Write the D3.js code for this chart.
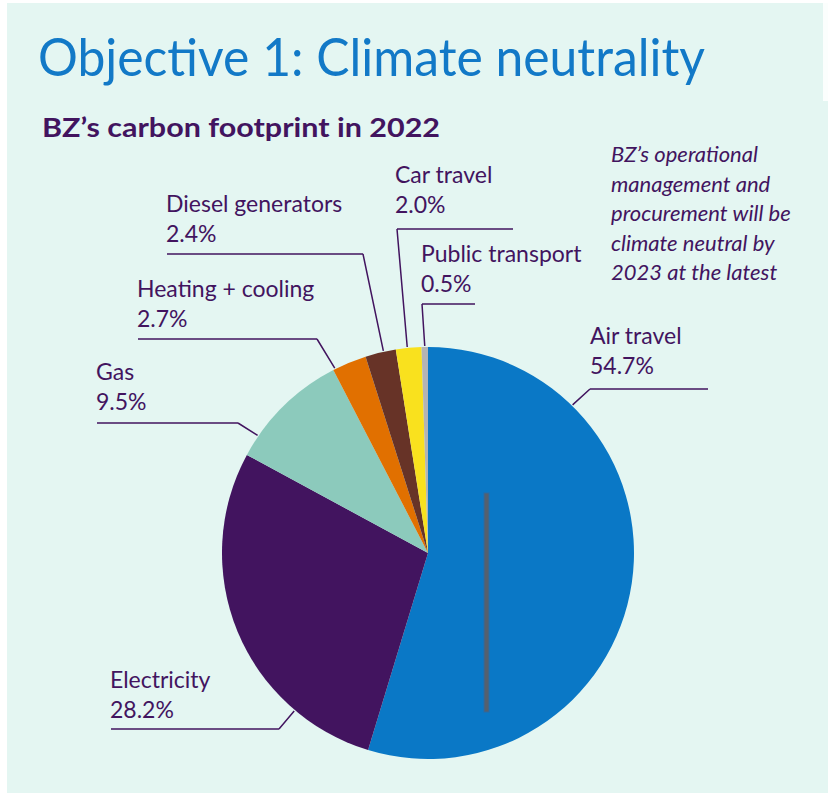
<!DOCTYPE html>
<html>
<head>
<meta charset="utf-8">
<script src="https://cdn.jsdelivr.net/npm/d3@7"></script>
<style>
  html, body { margin: 0; padding: 0; background: #ffffff; }
  svg { display: block; }
  text { font-family: Lato, "Noto Sans", sans-serif; }
</style>
</head>
<body>
<svg id="chart" width="828" height="794"></svg>
<script>
// ---- Data ----
const categories = ["Air travel", "Electricity", "Gas", "Heating + cooling", "Diesel generators", "Car travel", "Public transport"];
const shares = [54.7, 28.2, 9.5, 2.7, 2.4, 2.0, 0.5];
const colors = ["#0a78c6", "#42145f", "#8ccabc", "#e17000", "#673327", "#f9e11e", "#b4b4b4"];
const titleText = "Objective 1: Climate neutrality";
const subtitleText = "BZ\u2019s carbon footprint in 2022";
const noteLines = ["BZ\u2019s operational", "management and", "procurement will be", "climate neutral by", "2023 at the latest"];

// ---- Layout (label placement) ----
// t: fraction through slice where leader touches; tx,ty: text anchor; ly: leader y; hx0,hx1: horizontal extent; ex: elbow x
const labelLayout = [
  { t: 0.225, tx: 590, ty: 344, ly: 389, hx0: 590, hx1: 708, ex: 590 },
  { t: 0.23,  tx: 110, ty: 688, ly: 729, hx0: 111, hx1: 279, ex: 279 },
  { t: 0.18,  tx: 96,  ty: 380, ly: 423, hx0: 97,  hx1: 238, ex: 238 },
  { t: 0.06,  tx: 137, ty: 297, ly: 339, hx0: 138, hx1: 317, ex: 317 },
  { t: 0.6,   tx: 166, ty: 212, ly: 254, hx0: 167, hx1: 363, ex: 363 },
  { t: 0.45,  tx: 395, ty: 183, ly: 229, hx0: 397, hx1: 513, ex: 397 },
  { t: 0.5,   tx: 421, ty: 262, ly: 304, hx0: 422, hx1: 475, ex: 422 }
];

const W = 828, H = 794;
const cx = 428, cy = 553, R = 206;
const ink = "#42145f";

const svg = d3.select("#chart");

// background
svg.append("rect").attr("x", 0).attr("y", 0).attr("width", W).attr("height", H).attr("fill", "#ffffff");
svg.append("rect").attr("x", 7).attr("y", 3).attr("width", W - 7).attr("height", H - 4).attr("fill", "#e4f6f2");
svg.append("rect").attr("x", 823).attr("y", 3).attr("width", 5).attr("height", 98).attr("fill", "#fbfefd");

// title
svg.append("text")
  .attr("x", 38).attr("y", 76)
  .attr("font-size", 52)
  .attr("fill", "#1279c7")
  .attr("textLength", 667)
  .attr("lengthAdjust", "spacingAndGlyphs")
  .text(titleText);

// subtitle
svg.append("text")
  .attr("x", 42).attr("y", 137)
  .attr("font-size", 27)
  .attr("font-weight", 700)
  .attr("fill", ink)
  .attr("textLength", 398)
  .attr("lengthAdjust", "spacingAndGlyphs")
  .text(subtitleText);

// note
const note = svg.append("text")
  .attr("x", 611).attr("y", 162)
  .attr("font-size", 22)
  .attr("font-style", "italic")
  .attr("fill", ink);
noteLines.forEach((l, i) => {
  note.append("tspan").attr("x", 611).attr("y", 162 + i * 29.6).text(l);
});

// pie
const data = categories.map((c, i) => ({ name: c, value: shares[i], color: colors[i] }));
const pie = d3.pie().sort(null).value(d => d.value).startAngle(0).endAngle(2 * Math.PI);
const arcs = pie(data);
const arc = d3.arc().innerRadius(0).outerRadius(R);

const g = svg.append("g").attr("transform", `translate(${cx},${cy})`);
g.selectAll("path.slice")
  .data(arcs)
  .join("path")
  .attr("class", "slice")
  .attr("d", arc)
  .attr("fill", d => d.data.color);

// decorative scan artifact inside blue slice
svg.append("rect")
  .attr("x", cx + 56).attr("y", cy - 60)
  .attr("width", 5).attr("height", 219)
  .attr("fill", "#55606e")
  .attr("stroke", "#2f6aa0").attr("stroke-width", 1);

// labels + leaders
arcs.forEach((a, i) => {
  const L = labelLayout[i];
  const ang = a.startAngle + (a.endAngle - a.startAngle) * L.t;
  const px = cx + Math.sin(ang) * (R + 1);
  const py = cy - Math.cos(ang) * (R + 1);
  svg.append("path")
    .attr("d", `M${L.hx0},${L.ly}L${L.hx1},${L.ly}M${L.ex},${L.ly}L${px},${py}`)
    .attr("fill", "none")
    .attr("stroke", ink)
    .attr("stroke-width", 1.5);
  const t = svg.append("text")
    .attr("x", L.tx).attr("y", L.ty)
    .attr("font-size", 23)
    .attr("fill", ink);
  t.append("tspan").attr("x", L.tx).attr("y", L.ty).text(a.data.name);
  t.append("tspan").attr("x", L.tx).attr("y", L.ty + 30).text(d3.format(".1f")(a.data.value) + "%");
});
</script>
</body>
</html>
